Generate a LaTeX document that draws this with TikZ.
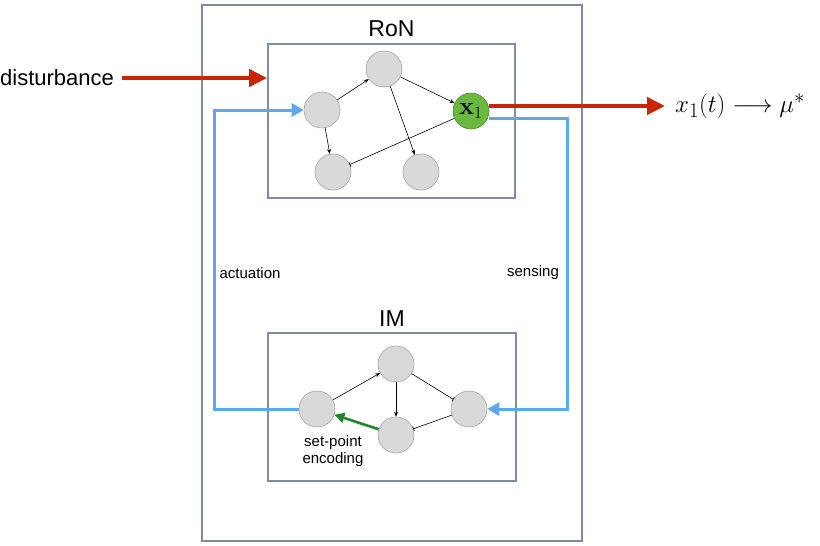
\documentclass[tikz,border=0pt]{standalone}
\usepackage[no-math]{fontspec}
\setmainfont{Liberation Sans}
\usetikzlibrary{arrows.meta}
\definecolor{boxc}{RGB}{128,140,162}
\definecolor{nodegray}{RGB}{217,217,217}
\definecolor{nodeborder}{RGB}{165,165,165}
\definecolor{xgreen}{RGB}{106,184,64}
\definecolor{xgreenb}{RGB}{80,140,50}
\definecolor{redc}{RGB}{200,36,6}
\definecolor{bluec}{RGB}{90,170,240}
\definecolor{greenc}{RGB}{30,135,40}
\begin{document}
\begin{tikzpicture}[x=1pt,y=-1pt,
 frame/.style={draw=boxc,line width=1.8pt,inner sep=0pt},
 gnode/.style={circle,fill=nodegray,draw=nodeborder,line width=0.6pt,minimum size=36pt,inner sep=0pt},
 xnode/.style={circle,fill=xgreen,draw=xgreenb,line width=0.6pt,minimum size=36pt,inner sep=0pt},
 actarr/.style={-{Stealth[length=5pt,width=4pt]},line width=0.6pt},
 inharr/.style={-{Bar[width=5pt]},line width=0.6pt},
 redarr/.style={draw=redc,line width=4.2pt,-{Triangle[length=18pt,width=17pt]}},
 bluearr/.style={draw=bluec,line width=3pt,-{Triangle[length=12pt,width=13pt]}},
 greenarr/.style={draw=greenc,line width=2.6pt,-{Triangle[length=10pt,width=10pt]}},
 lbl/.style={inner sep=0pt,font=\fontsize{15}{17}\selectfont},
 title/.style={inner sep=0pt,font=\fontsize{23}{26}\selectfont}
]
\useasboundingbox (0,0) rectangle (820,546);
% boxes
\node[frame,minimum width=380pt,minimum height=536pt] (outer) at (392,273) {};
\node[frame,minimum width=247pt,minimum height=154pt] (ron) at (391.5,121) {};
\node[frame,minimum width=248pt,minimum height=148pt] (im) at (392,407) {};
\node[title] (ronlbl) at (391.5,29) {RoN};
\node[title] (imlbl) at (392,319) {IM};
% RoN nodes
\node[gnode] (A) at (322,110) {};
\node[gnode] (B) at (384,69) {};
\node[xnode] (X1) at (471,111) {\fontsize{23}{26}\selectfont$\mathbf{x}_1$};
\node[gnode] (C) at (333,172) {};
\node[gnode] (D) at (421,172) {};
\draw[actarr] (A) -- (B);
\draw[actarr] (B) -- (X1);
\draw[actarr] (B) -- (D);
\draw[actarr] (A) -- (C);
\draw[inharr] (X1) -- (C);
% IM nodes
\node[gnode] (L) at (317,409) {};
\node[gnode] (T) at (396,364) {};
\node[gnode] (R) at (469,409) {};
\node[gnode] (Bt) at (396,435) {};
\draw[actarr] (L) -- (T);
\draw[actarr] (T) -- (Bt);
\draw[inharr] (T) -- (R);
\draw[inharr] (R) -- (Bt);
\draw[greenarr] (Bt) -- (L);
\node[lbl,align=center] (setpt) at (333,451) {set-point\\encoding};
% disturbance and output
\node[inner sep=0pt,anchor=west,font=\fontsize{22}{26}\selectfont] (dist) at (0,78) {disturbance};
\draw[redarr] ([xshift=8pt]dist.east) -- (ron.west |- dist.east);
\node[inner sep=0pt,anchor=west,font=\fontsize{29}{32}\selectfont] (out) at (675,106) {$x_1(t)\longrightarrow\mu^*$};
\draw[redarr] ([yshift=5pt]X1.east) -- ([xshift=-10pt]out.west);
% feedback loop
\draw[bluearr] ([yshift=-7pt]X1.east) -- ++(78pt,0) |- (R.east);
\draw[bluearr] (L.west) -- ++(-84pt,0) |- (A.west);
\node[lbl] (act) at (250,273) {actuation};
\node[lbl] (sens) at (533,273) {sensing};
\end{tikzpicture}
\end{document}
